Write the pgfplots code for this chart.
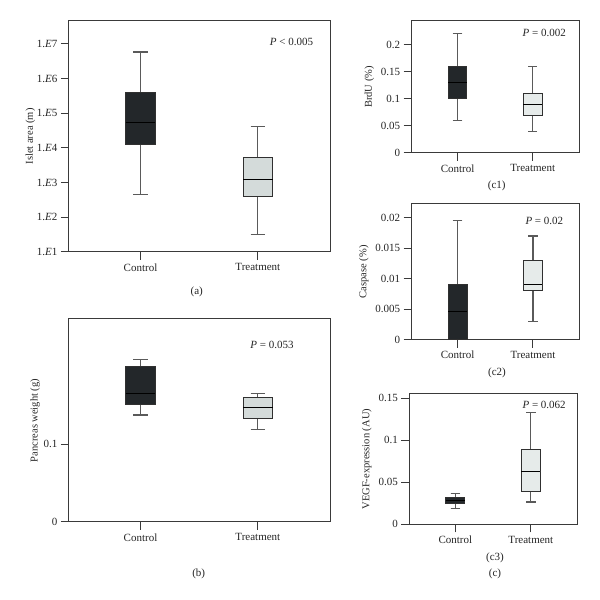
\documentclass[border=0pt]{standalone}
\usepackage{fontspec}
\setmainfont{Liberation Serif}
\usepackage{pgfplots}
\pgfplotsset{compat=1.18}
\usepgfplotslibrary{statistics}
\definecolor{darkbox}{HTML}{23272A}
\definecolor{lightab}{HTML}{D4DBDA}
\definecolor{lightc}{HTML}{E6EBEA}
\definecolor{axisc}{HTML}{3A3A3A}
\definecolor{whisk}{HTML}{5A5A5A}
\definecolor{boxedge}{HTML}{303030}
\tikzset{ptext/.style={anchor=east, font=\fontsize{11}{13}\selectfont, text=black!85}}
\pgfplotsset{
  mybox/.style={
    scale only axis,
    axis line style={color=axisc, line width=1pt},
    tick align=outside, xtick pos=left, ytick pos=left,
    major tick length=8pt,
    tick style={color=axisc, line width=1pt},
    xmin=0.39, xmax=2.615, xtick={1,2}, xticklabels={Control,Treatment},
    /pgf/number format/assume math mode=true,
    ticklabel style={font=\fontsize{11}{13}\selectfont, text=black!85},
    label style={font=\fontsize{10.5}{12}\selectfont, text=black!85},
    scaled y ticks=false,
    boxplot/draw direction=y,
    boxplot/box extend=0.25,
    boxplot/whisker extend=0.125,
    boxplot/every whisker/.style={draw=whisk, line width=1.1pt},
    boxplot/every box/.style={draw=boxedge, line width=1pt},
    boxplot/every median/.style={draw=black, line width=1pt},
  },
}
\begin{document}
\begin{tikzpicture}
\path[use as bounding box, fill=white] (0pt,0pt) rectangle (600pt,600pt);
% (a)
\begin{axis}[mybox, at={(69pt,348pt)}, anchor=south west, width=261pt, height=231pt,
  ymin=1, ymax=7.663, ytick={1,2,3,4,5,6,7},
  yticklabels={1.\textit{E}1,1.\textit{E}2,1.\textit{E}3,1.\textit{E}4,1.\textit{E}5,1.\textit{E}6,1.\textit{E}7},
  ylabel={Islet area (m)}, ylabel shift=-5pt]
\addplot[boxplot prepared={draw direction=y, draw position=1, lower whisker=2.65, lower quartile=4.095, median=4.74, upper quartile=5.61, upper whisker=6.77}, fill=darkbox] coordinates {};
\addplot[boxplot prepared={draw direction=y, draw position=2, lower whisker=1.51, lower quartile=2.61, median=3.08, upper quartile=3.72, upper whisker=4.61}, fill=lightab] coordinates {};
\node[ptext] at (rel axis cs:0.949,0.910) {\textit{P} < 0.005};
\end{axis}
% (b)
\begin{axis}[mybox, at={(69pt,78pt)}, anchor=south west, width=261pt, height=203pt,
  ymin=0, ymax=0.2616, ytick={0,0.1}, yticklabels={0,0.1},
  ylabel={Pancreas weight (g)}, ylabel shift=-3pt]
\addplot[boxplot prepared={draw direction=y, draw position=1, lower whisker=0.1379, lower quartile=0.1517, median=0.1658, upper quartile=0.201, upper whisker=0.2097}, fill=darkbox] coordinates {};
\addplot[boxplot prepared={draw direction=y, draw position=2, lower whisker=0.1195, lower quartile=0.1331, median=0.1473, upper quartile=0.1607, upper whisker=0.1654}, fill=lightab] coordinates {};
\node[ptext] at (rel axis cs:0.874,0.873) {\textit{P} = 0.053};
\end{axis}
% (c1)
\begin{axis}[mybox, at={(411.7pt,447pt)}, anchor=south west, width=167.3pt, height=132pt,
  ymin=0, ymax=0.2438, ytick={0,0.05,0.1,0.15,0.2}, yticklabels={0,0.05,0.1,0.15,0.2},
  ylabel={BrdU (\%)}]
\addplot[boxplot prepared={draw direction=y, draw position=1, lower whisker=0.06, lower quartile=0.1, median=0.13, upper quartile=0.16, upper whisker=0.22}, fill=darkbox] coordinates {};
\addplot[boxplot prepared={draw direction=y, draw position=2, lower whisker=0.04, lower quartile=0.07, median=0.09, upper quartile=0.11, upper whisker=0.16}, fill=lightc] coordinates {};
\node[ptext] at (rel axis cs:0.942,0.907) {\textit{P} = 0.002};
\end{axis}
% (c2)
\begin{axis}[mybox, at={(411.7pt,260.3pt)}, anchor=south west, width=167.6pt, height=135.7pt,
  ymin=0, ymax=0.02225, ytick={0,0.005,0.01,0.015,0.02}, yticklabels={0,0.005,0.01,0.015,0.02},
  ylabel={Caspase (\%)}]
\addplot[boxplot prepared={draw direction=y, draw position=1, lower whisker=0, lower quartile=0, median=0.0047, upper quartile=0.009, upper whisker=0.0195}, fill=darkbox] coordinates {};
\addplot[boxplot prepared={draw direction=y, draw position=2, lower whisker=0.003, lower quartile=0.008, median=0.009, upper quartile=0.013, upper whisker=0.017}, fill=lightc] coordinates {};
\node[ptext] at (rel axis cs:0.925,0.877) {\textit{P} = 0.02};
\end{axis}
% (c3)
\begin{axis}[mybox, at={(409.3pt,75.7pt)}, anchor=south west, width=168pt, height=130.3pt,
  ymin=0, ymax=0.155, ytick={0,0.05,0.1,0.15}, yticklabels={0,0.05,0.1,0.15},
  ylabel={VEGF-expression (AU)}]
\addplot[boxplot prepared={draw direction=y, draw position=1, lower whisker=0.019, lower quartile=0.0242, median=0.028, upper quartile=0.0317, upper whisker=0.0364}, fill=darkbox] coordinates {};
\addplot[boxplot prepared={draw direction=y, draw position=2, lower whisker=0.0265, lower quartile=0.0393, median=0.0626, upper quartile=0.0888, upper whisker=0.1325}, fill=lightc] coordinates {};
\node[ptext] at (rel axis cs:0.952,0.916) {\textit{P} = 0.062};
\end{axis}
% captions
\node[font=\fontsize{11}{13}\selectfont, text=black!85] at (196.7pt,308pt) {(a)};
\node[font=\fontsize{11}{13}\selectfont, text=black!85] at (198.7pt,26pt) {(b)};
\node[font=\fontsize{11}{13}\selectfont, text=black!85] at (496.7pt,414.3pt) {(c1)};
\node[font=\fontsize{11}{13}\selectfont, text=black!85] at (497pt,227pt) {(c2)};
\node[font=\fontsize{11}{13}\selectfont, text=black!85] at (495pt,41.7pt) {(c3)};
\node[font=\fontsize{11}{13}\selectfont, text=black!85] at (495pt,25.7pt) {(c)};
\end{tikzpicture}
\end{document}
